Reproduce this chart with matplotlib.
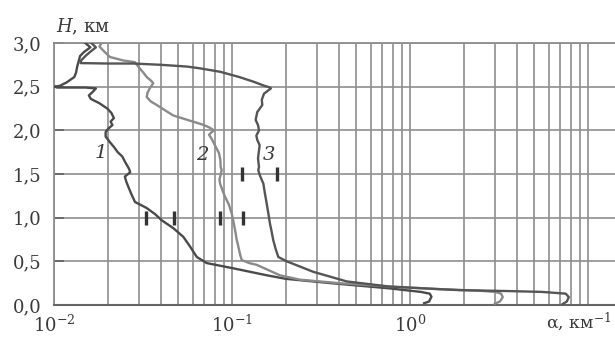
import matplotlib
matplotlib.use("Agg")
import matplotlib.pyplot as plt

plt.rcParams["font.family"] = ["DejaVu Serif"]
plt.rcParams["mathtext.fontset"] = "dejavuserif"

# ---- profile 1: altitude (km) vs extinction (km^-1) ----
H1 = [3.00, 2.95, 2.90, 2.85, 2.80, 2.73, 2.66, 2.61, 2.55, 2.51, 2.50, 2.49,
      2.49, 2.48, 2.44, 2.40, 2.36, 2.31, 2.25, 2.20, 2.14, 2.10, 2.06, 2.02,
      1.98, 1.93, 1.87, 1.81, 1.75, 1.70, 1.63, 1.56, 1.52, 1.47, 1.41, 1.35,
      1.27, 1.18, 1.11, 1.04, 0.97, 0.88, 0.78, 0.67, 0.55, 0.48, 0.42, 0.34,
      0.30, 0.25, 0.19, 0.15, 0.13, 0.095, 0.04, 0.02]
A1 = [0.0150, 0.0160, 0.0148, 0.0140, 0.0138, 0.0135, 0.0133, 0.0130, 0.0118,
      0.0108, 0.0101, 0.0104, 0.0150, 0.0172, 0.0165, 0.0157, 0.0161, 0.0180,
      0.0199, 0.0210, 0.0217, 0.0208, 0.0213, 0.0202, 0.0195, 0.0195, 0.0205,
      0.0217, 0.0228, 0.0242, 0.0252, 0.0264, 0.0268, 0.0250, 0.0255, 0.0262,
      0.0272, 0.0285, 0.0332, 0.0370, 0.0403, 0.0468, 0.0533, 0.0581, 0.0634,
      0.0721, 0.1017, 0.157, 0.20, 0.36, 0.77, 1.15, 1.29, 1.32, 1.28, 1.20]

# ---- profile 2 ----
H2 = [3.00, 2.96, 2.90, 2.84, 2.80, 2.78, 2.72, 2.66, 2.61, 2.57, 2.54, 2.48,
      2.43, 2.38, 2.33, 2.29, 2.23, 2.17, 2.12, 2.08, 2.06, 2.03, 2.00, 1.97,
      1.95, 1.90, 1.85, 1.80, 1.74, 1.66, 1.58, 1.545, 1.49, 1.44, 1.39, 1.31,
      1.24, 1.15, 1.05, 0.95, 0.86, 0.76, 0.67, 0.58, 0.515, 0.48, 0.46, 0.40,
      0.34, 0.29, 0.25, 0.21, 0.18, 0.165, 0.15, 0.13, 0.09, 0.04, 0.015]
A2 = [0.0185, 0.0180, 0.0192, 0.0206, 0.0245, 0.0285, 0.0300, 0.0318, 0.0332,
      0.0350, 0.0361, 0.0345, 0.0335, 0.0332, 0.0350, 0.0378, 0.0420, 0.0468,
      0.0561, 0.0650, 0.0696, 0.0750, 0.0792, 0.0760, 0.0743, 0.0770, 0.0792,
      0.0815, 0.0845, 0.0860, 0.0864, 0.0875, 0.0864, 0.0850, 0.0857, 0.0885,
      0.0914, 0.0960, 0.0996, 0.1020, 0.1040, 0.1060, 0.1085, 0.1110, 0.1134,
      0.125, 0.1376, 0.160, 0.186, 0.241, 0.40, 0.80, 1.5, 2.4, 3.0, 3.25,
      3.32, 3.2, 3.0]

# ---- profile 3 ----
H3 = [3.00, 2.95, 2.90, 2.85, 2.80, 2.77, 2.765, 2.765, 2.75, 2.73, 2.71,
      2.67, 2.61, 2.555, 2.51, 2.49, 2.48, 2.42, 2.35, 2.29, 2.21, 2.12, 2.06,
      2.00, 1.94, 1.89, 1.83, 1.77, 1.68, 1.58, 1.545, 1.49, 1.39, 1.28, 1.16,
      1.05, 0.93, 0.84, 0.74, 0.64, 0.55, 0.50, 0.44, 0.38, 0.27, 0.21, 0.17,
      0.16, 0.15, 0.13, 0.09, 0.04, 0.01]
A3 = [0.0162, 0.0172, 0.0160, 0.0150, 0.0142, 0.0141, 0.0200, 0.0280, 0.0400,
      0.0560, 0.0660, 0.0860, 0.1100, 0.1329, 0.1520, 0.1640, 0.1654, 0.1513,
      0.1470, 0.1480, 0.1387, 0.1358, 0.1400, 0.1418, 0.1370, 0.1387, 0.1430,
      0.1418, 0.1400, 0.1418, 0.1405, 0.1430, 0.1500, 0.1530, 0.1567, 0.1600,
      0.1635, 0.1670, 0.1706, 0.1760, 0.182, 0.203, 0.241, 0.286, 0.441,
      0.772, 1.91, 3.5, 5.5, 7.5, 7.8, 7.6, 7.2]

# error marks
ERR_H = [1.0, 1.0, 1.0, 1.0, 1.5, 1.5]
ERR_A = [0.0327, 0.0472, 0.0857, 0.1155, 0.1134, 0.1783]

Y_TICKS = [0.0, 0.5, 1.0, 1.5, 2.0, 2.5, 3.0]
X_TICKS = [1e-2, 1e-1, 1e0, 1e1]
X_LABELS = ["$10^{-2}$", "$10^{-1}$", "$10^{0}$", ""]

GRID = "#8e8e8e"
TXT = "#3a3a3a"

fig = plt.figure(figsize=(6.15, 3.38), dpi=100)
ax = fig.add_axes([54 / 615, 33 / 338, 561 / 615, 262 / 338])
ax.set_xscale("log")
ax.set_xlim(1e-2, 10 ** (561 / 178 - 2))
ax.set_ylim(0, 3)

ax.set_xticks(X_TICKS)
ax.set_xticklabels(X_LABELS)
ax.xaxis.set_minor_locator(matplotlib.ticker.LogLocator(subs=range(2, 10), numticks=20))
ax.xaxis.set_minor_formatter(matplotlib.ticker.NullFormatter())
ax.set_yticks(Y_TICKS)
ax.set_yticklabels([f"{v:.1f}".replace(".", ",") for v in Y_TICKS])

ax.grid(True, which="both", axis="x", color=GRID, linewidth=1.2)
ax.grid(True, which="major", axis="y", color=GRID, linewidth=1.2)
ax.set_axisbelow(True)

ax.tick_params(axis="x", which="both", length=0, pad=7, labelsize=13,
               labelcolor=TXT)
ax.tick_params(axis="y", direction="in", length=7, width=1.3, color="#666666",
               pad=9, labelsize=13, labelcolor=TXT)

for side in ["top", "left"]:
    ax.spines[side].set_color(GRID)
    ax.spines[side].set_linewidth(1.3)
ax.spines["bottom"].set_color("#666666")
ax.spines["bottom"].set_linewidth(1.5)
ax.spines["right"].set_visible(False)

ax.plot(A1, H1, color="#4a4a4a", linewidth=1.7, zorder=3)
ax.plot(A2, H2, color="#8a8a8a", linewidth=1.7, zorder=3)
ax.plot(A3, H3, color="#555555", linewidth=1.7, zorder=3)

ax.plot(ERR_A, ERR_H, linestyle="none", marker="|", markersize=10,
        markeredgewidth=2.4, color="#333333", zorder=4)

label_kw = dict(fontsize=14, fontstyle="italic", color=TXT,
                ha="center", va="center", zorder=5)
ax.text(0.0183, 1.74, "1", **label_kw)
ax.text(0.0681, 1.72, "2", **label_kw)
ax.text(0.1614, 1.72, "3", **label_kw)

fig.text(56 / 615, 1 - 27 / 338, "$H$, км", fontsize=13, color=TXT,
         ha="left", va="center")
fig.text(612 / 615, 1 - 322 / 338, "α, км$^{-1}$", fontsize=12.5,
         color=TXT, ha="right", va="center")

fig.savefig("out.png", dpi=100)
